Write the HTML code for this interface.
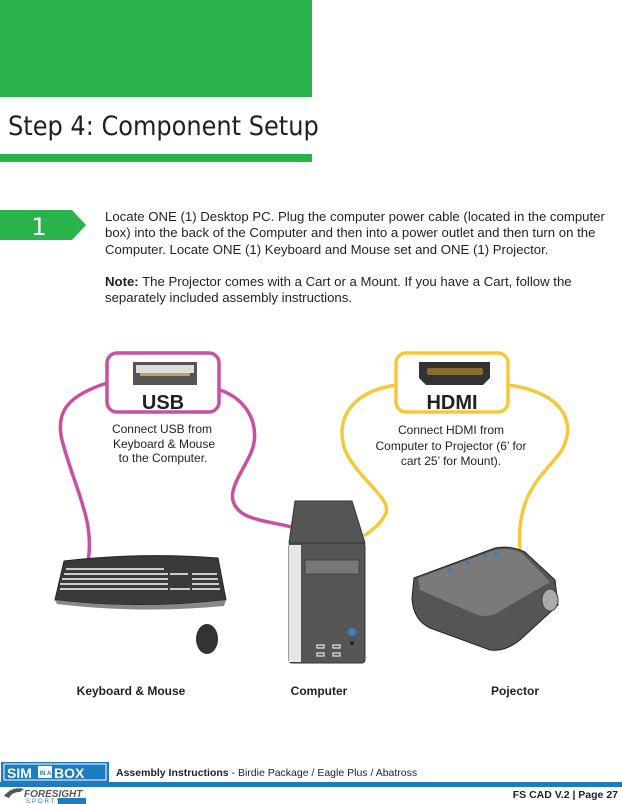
<!DOCTYPE html>
<html><head><meta charset="utf-8"><style>
body{margin:0;width:622px;height:804px;background:#fff;position:relative;overflow:hidden;font-family:"Liberation Sans",Arial,sans-serif}
.a{position:absolute}
</style></head><body>
<div class="a" style="left:0;top:0;width:312px;height:97px;background:#2bb34b"></div>
<div class="a" style="left:8px;top:111px;font-size:27px;color:#231f20;transform:scaleX(0.99);transform-origin:0 0;white-space:nowrap;font-family:'DejaVu Sans Condensed','DejaVu Sans',sans-serif">Step 4: Component Setup</div>
<div class="a" style="left:0;top:154px;width:312px;height:8px;background:#2bb34b"></div>
<svg class="a" style="left:0;top:210px" width="90" height="32"><polygon points="0,0 72,0 86,15 72,30 0,30" fill="#2bb34b"/><text x="39" y="25" font-size="24" fill="#fff" text-anchor="middle" font-family="DejaVu Sans,sans-serif">1</text></svg>
<div class="a" style="left:105px;top:209px;white-space:nowrap;font-size:13.2px;line-height:16.3px;color:#231f20">Locate ONE (1) Desktop PC. Plug the computer power cable (located in the computer<br>box) into the back of the Computer and then into a power outlet and then turn on the<br>Computer. Locate ONE (1) Keyboard and Mouse set and ONE (1) Projector.<br><br><b>Note:</b> The Projector comes with a Cart or a Mount. If you have a Cart, follow the<br>separately included assembly instructions.</div>
<svg class="a" style="left:0;top:0" width="622" height="804">
<g fill="none" stroke-width="3.5">
<path d="M107,383 C70,395 55,410 62,440 C75,490 95,520 88,562" stroke="#c94fa0"/>
<path d="M220,390 C250,400 262,430 250,455 C238,480 220,500 245,515 C260,522 278,523 291,527" stroke="#c94fa0"/>
<path d="M396,385 C350,392 335,420 345,450 C358,480 395,500 385,515 C380,525 372,530 364,536" stroke="#f5c83a"/>
<path d="M508,385 C560,392 578,420 562,450 C545,475 515,490 520,553" stroke="#f5c83a"/>
</g>
<rect x="107" y="353" width="112" height="59" rx="10" fill="#fff" stroke="#c94fa0" stroke-width="3.5"/>
<rect x="133" y="362" width="64" height="23" fill="#555"/><rect x="136" y="365" width="58" height="8" fill="#ddd"/><rect x="140" y="373" width="50" height="3" fill="#c9a24b"/>
<text x="163" y="409" font-size="20" font-weight="bold" text-anchor="middle" fill="#231f20">USB</text>
<rect x="396" y="353" width="112" height="59" rx="10" fill="#fff" stroke="#f5c83a" stroke-width="3.5"/>
<path d="M419,362 H490 V378 L483,385 H426 L419,378 Z" fill="#333"/><rect x="427" y="368" width="56" height="7" rx="2" fill="#8a6d2b"/>
<text x="452" y="409" font-size="20" font-weight="bold" text-anchor="middle" fill="#231f20">HDMI</text>
<g font-size="12" fill="#231f20" text-anchor="middle">
<text x="162" y="433">Connect USB from</text><text x="164" y="448">Keyboard &amp; Mouse</text><text x="163" y="462">to the Computer.</text>
<text x="451" y="434">Connect HDMI from</text><text x="451" y="450">Computer to Projector (6’ for</text><text x="451" y="465">cart 25’ for Mount).</text>
</g>
<polygon points="295,501 352,501 365,543 289,543" fill="#555" stroke="#333"/>
<rect x="289" y="543" width="76" height="120" rx="3" fill="#555" stroke="#333"/>
<rect x="289" y="545" width="12" height="117" fill="#e6e6e6"/>
<rect x="305" y="560" width="54" height="14" fill="#777" stroke="#444"/>
<circle cx="352" cy="632" r="4" fill="#3a7fc1"/><circle cx="352" cy="643" r="2" fill="#222"/>
<g fill="none" stroke="#ddd" stroke-width="1.3"><rect x="317" y="645" width="7" height="3"/><rect x="333" y="645" width="7" height="3"/><rect x="317" y="653" width="7" height="3"/><rect x="333" y="653" width="7" height="3"/></g>
<path d="M64,561 Q140,552 218,558 L226,600 Q140,610 55,600 Z" fill="#3a3a3a" stroke="#222"/>
<path d="M55,600 Q140,610 226,600 L224,606 Q140,614 57,604 Z" fill="#888"/>
<g fill="#ccc"><rect x="66" y="568" width="98" height="2"/><rect x="64" y="573" width="104" height="2"/><rect x="62" y="578" width="106" height="2"/><rect x="60" y="583" width="108" height="2"/><rect x="60" y="588" width="108" height="2"/><rect x="170" y="573" width="18" height="2"/><rect x="192" y="573" width="25" height="2"/><rect x="192" y="578" width="26" height="2"/><rect x="192" y="583" width="27" height="2"/><rect x="192" y="588" width="28" height="2"/><rect x="170" y="588" width="20" height="2"/></g>
<ellipse cx="207" cy="639" rx="11" ry="15" fill="#333"/>
<path d="M414,578 L495,548 Q510,545 525,552 L555,580 L558,605 L520,640 Q505,652 490,650 L430,628 Q413,620 412,598 Z" fill="#555" stroke="#222"/>
<path d="M418,578 L495,550 Q510,547 522,553 L550,582 L495,614 Q485,618 475,614 L420,590 Z" fill="#7a7a7a"/>
<ellipse cx="550" cy="600" rx="8" ry="11" fill="#aaa" stroke="#444"/>
<g fill="#3a7fc1"><circle cx="450" cy="570" r="2"/><circle cx="468" cy="563" r="2"/><circle cx="485" cy="556" r="2"/><circle cx="496" cy="553" r="2"/></g>
<g font-size="12" font-weight="bold" fill="#231f20" text-anchor="middle"><text x="131" y="695">Keyboard &amp; Mouse</text><text x="319" y="695">Computer</text><text x="515" y="695">Pojector</text></g>
<rect x="0" y="782" width="622" height="5" fill="#1f7bbf"/>
<rect x="1" y="762" width="108" height="20" fill="#1f7bbf"/><rect x="4" y="764" width="102" height="16" fill="none" stroke="#fff" stroke-width="1"/>
<text x="7" y="778" font-size="14" font-weight="bold" fill="#fff">SIM</text><rect x="38" y="766" width="14" height="12" fill="#fff"/><text x="39.5" y="775" font-size="6" font-weight="bold" fill="#1f7bbf">IN A</text><text x="54" y="778" font-size="14" font-weight="bold" fill="#fff">BOX</text>
<text x="116" y="776" font-size="10.5" fill="#231f20"><tspan font-weight="bold">Assembly Instructions</tspan> - Birdie Package / Eagle Plus / Abatross</text>
<path d="M4,796 Q12,786 24,789 L20,792 Q12,792 9,798 Z" fill="#555"/>
<text x="24" y="797" font-size="10" font-weight="bold" font-style="italic" fill="#555">FORESIGHT</text>
<text x="26" y="803" font-size="6" fill="#1f7bbf" letter-spacing="2">SPORTS</text><rect x="58" y="798" width="28" height="6" fill="#1f7bbf"/>
<text x="618" y="798" font-size="10.5" font-weight="bold" text-anchor="end" fill="#231f20">FS CAD V.2 | Page 27</text>
</svg>
</body></html>
